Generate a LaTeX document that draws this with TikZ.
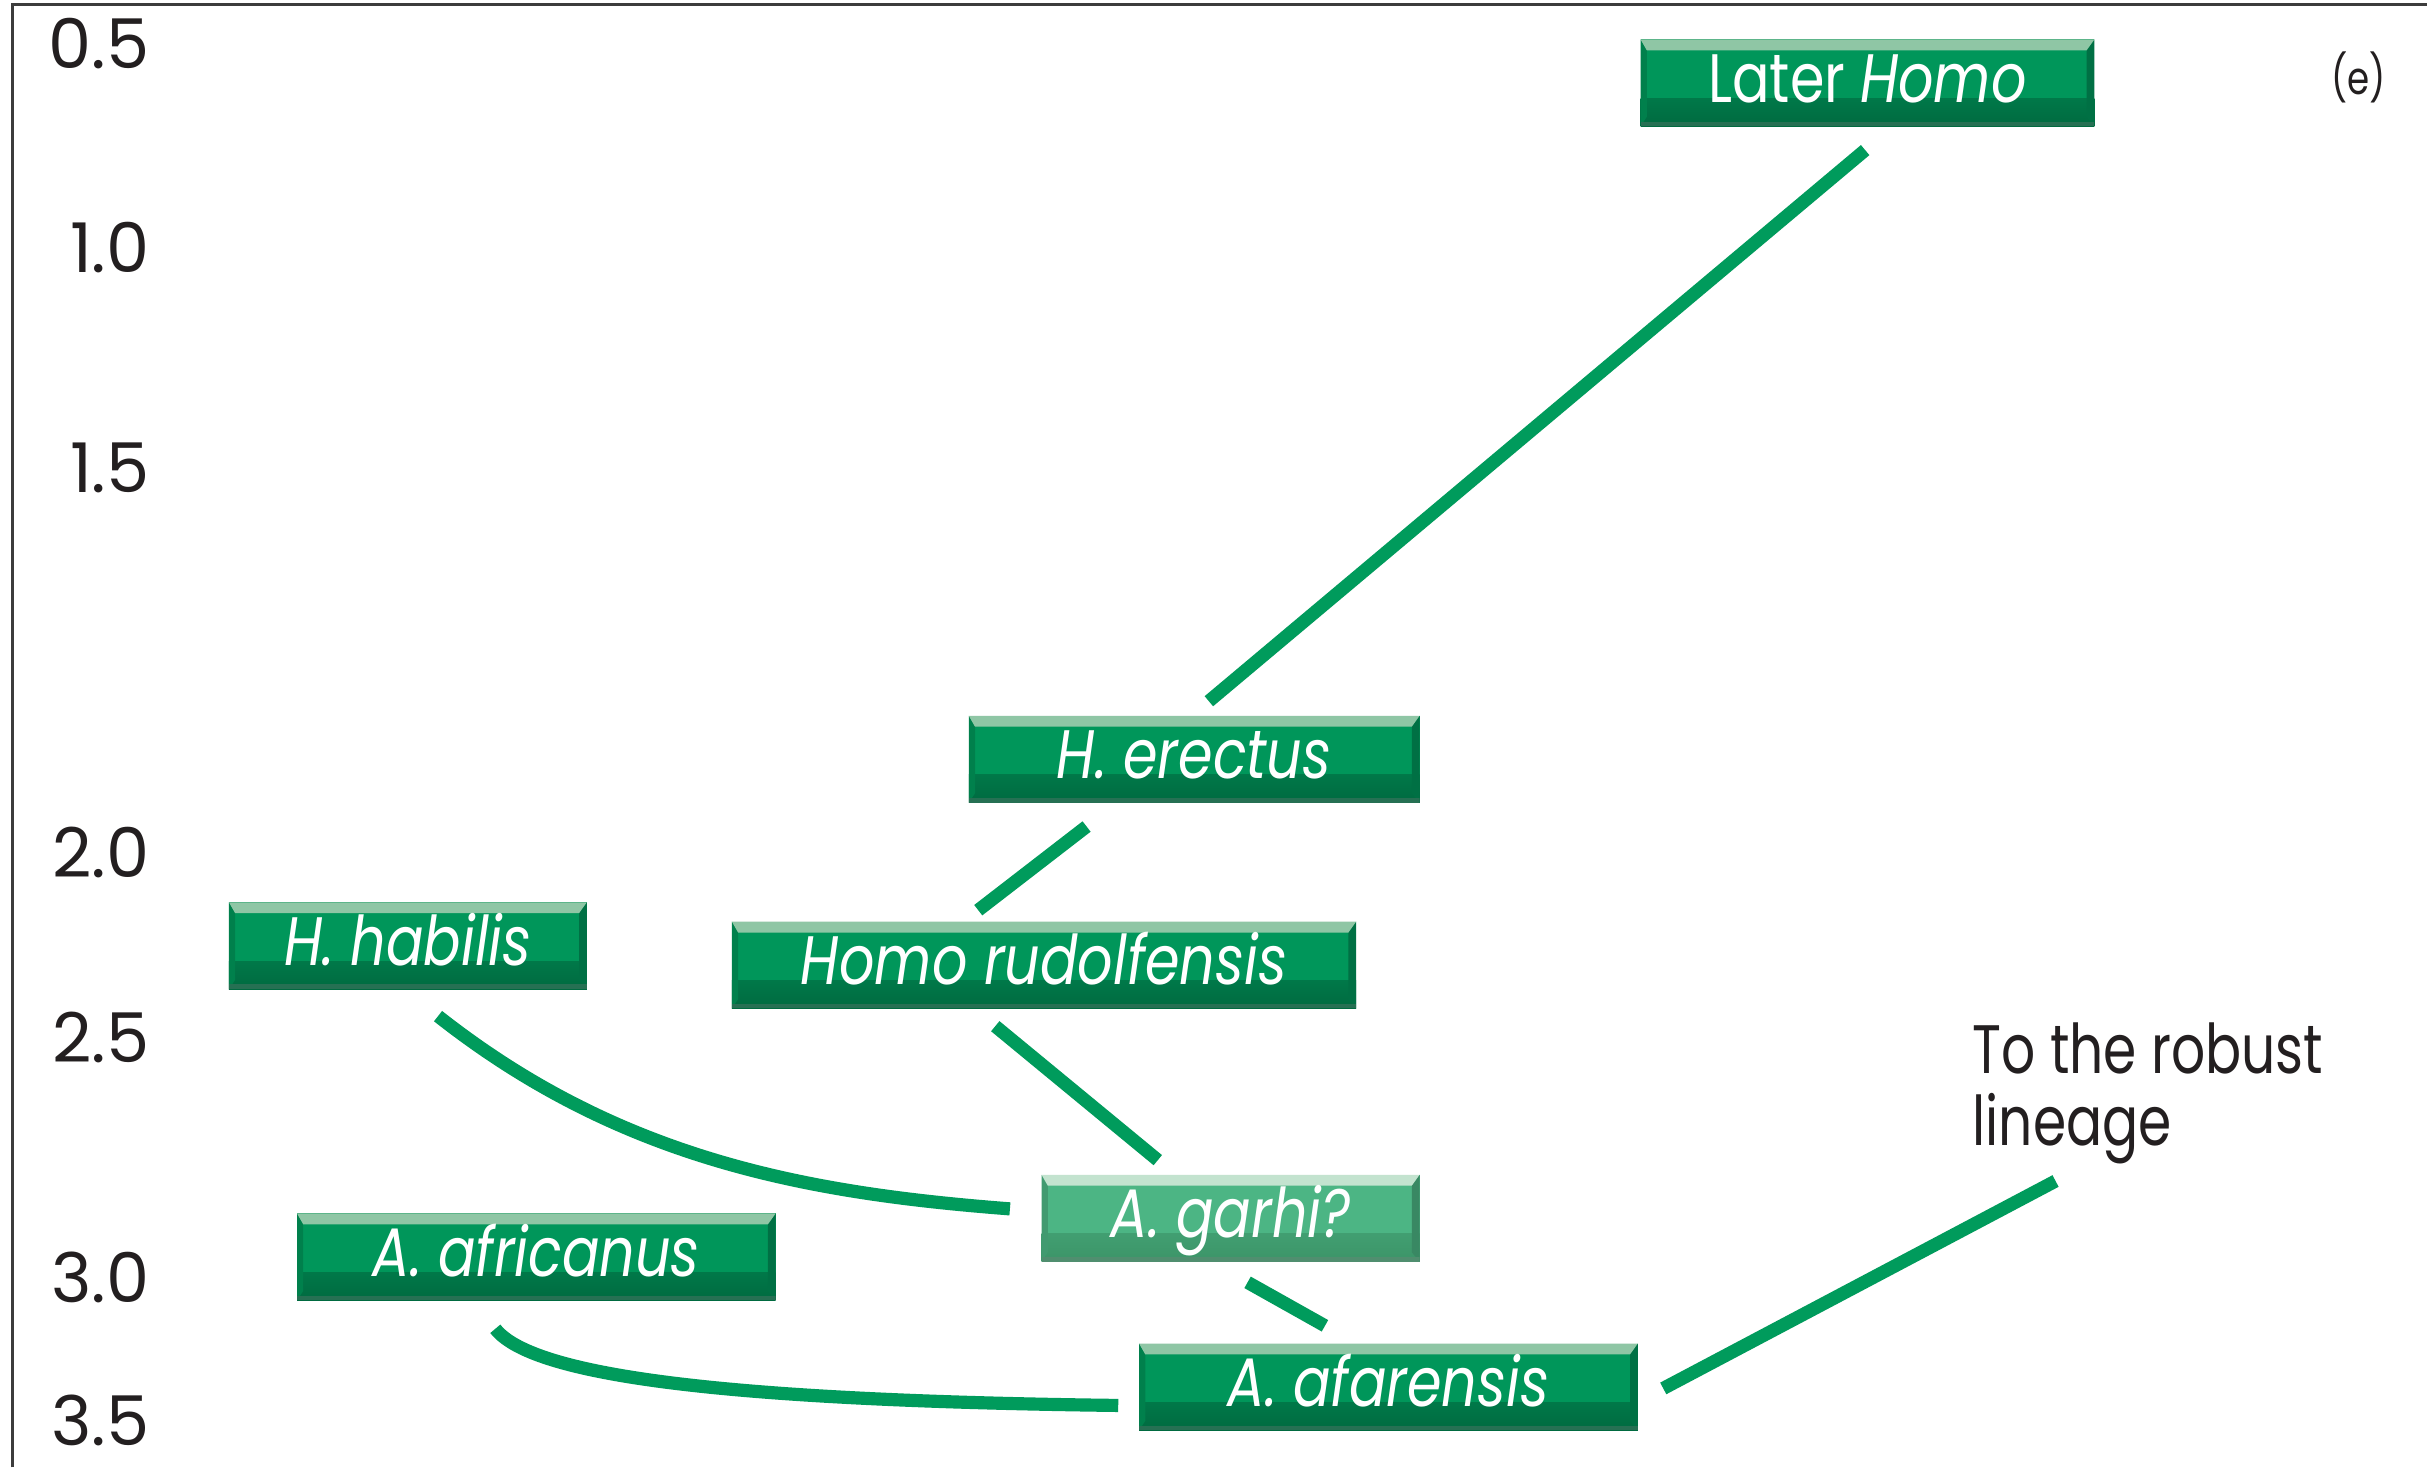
\documentclass[tikz,border=0pt]{standalone}
\usepackage{fontspec}
\usetikzlibrary{calc}
\setmainfont{Poppins}
\newfontfamily\boxfont[FakeStretch=0.81]{Poppins}
\newfontfamily\labfont[FakeStretch=0.78]{Poppins}
\newcommand\pxw{0.4405pt}
\definecolor{linkgreen}{HTML}{009B5C}
\definecolor{bxmain}{HTML}{00965A}
\definecolor{bxtop}{HTML}{8FC6A5}
\definecolor{bxbot}{HTML}{006A40}
\definecolor{gamain}{HTML}{4CB584}
\definecolor{gatop}{HTML}{C3E3CF}
\definecolor{gabot}{HTML}{3C9468}
\definecolor{inkgray}{HTML}{231F20}
\definecolor{framegray}{HTML}{3C3C3C}
\begin{document}
\begin{tikzpicture}[x=0.01548cm, y=-0.01548cm,
  boxbase/.style n args={3}{fill=#1, inner sep=0pt, minimum height=56*\pxw,
    text height=15pt, text depth=4pt, text=white,
    font=\boxfont\fontsize{19.5}{22}\selectfont,
    path picture={
      \shade[top color=#1, bottom color=#3]
        ($(path picture bounding box.south west)+(0,-18)$) rectangle (path picture bounding box.south east);
      \fill[#1!85!black] (path picture bounding box.north west) -- ($(path picture bounding box.north west)+(4,7)$)
        -- ($(path picture bounding box.south west)+(4,-6)$) -- (path picture bounding box.south west) -- cycle;
      \fill[#1!75!black] (path picture bounding box.north east) -- ($(path picture bounding box.north east)+(-5,7)$)
        -- ($(path picture bounding box.south east)+(-5,-6)$) -- (path picture bounding box.south east) -- cycle;
      \fill[#2] (path picture bounding box.north west) -- (path picture bounding box.north east)
        -- ($(path picture bounding box.north east)+(-5,7)$) -- ($(path picture bounding box.north west)+(4,7)$) -- cycle;
      \fill[#3!70!gray] ($(path picture bounding box.south west)+(0,-3)$) rectangle (path picture bounding box.south east);
    }},
  darkbox/.style={boxbase={bxmain}{bxtop}{bxbot}},
  lightbox/.style={boxbase={gamain}{gatop}{gabot}},
  link/.style={draw=linkgreen, line width=8.5*\pxw, line cap=butt},
  axislab/.style={anchor=east, text=inkgray, inner sep=0pt, font=\fontsize{19.5}{22}\selectfont},
  note/.style={text=inkgray, inner sep=0pt, font=\labfont\fontsize{19.5}{20.7}\selectfont}
]
\useasboundingbox (0,0) rectangle (1568,948);
\fill[white] (0,0) rectangle (1568,948);
\draw[framegray, line width=2.3*\pxw] (8,948) -- (8,3) -- (1568,3);

% axis
\node[axislab] (t05) at (97,28) {0.5};
\node[axislab] (t10) at (97,160) {1.0};
\node[axislab] (t15) at (97,302) {1.5};
\node[axislab] (t20) at (97,551) {2.0};
\node[axislab] (t25) at (97,670) {2.5};
\node[axislab] (t30) at (97,825) {3.0};
\node[axislab] (t35) at (97,918) {3.5};
\node[text=inkgray, inner sep=0pt, font=\labfont\fontsize{13}{15}\selectfont] (elab) at (1524,50) {(e)};

% boxes
\node[darkbox, minimum width=293*\pxw] (later) at (1206.5,53.5) {Later \textit{Homo}};
\node[darkbox, minimum width=291*\pxw] (erectus) at (771.5,490.5) {\textit{H. erectus}};
\node[darkbox, minimum width=231*\pxw] (habilis) at (263.5,611) {\textit{H. habilis}};
\node[darkbox, minimum width=403*\pxw] (rudolf) at (674.5,623.5) {\textit{Homo rudolfensis}};
\node[lightbox, minimum width=244*\pxw] (garhi) at (795,787) {\textit{A. garhi?}};
\node[darkbox, minimum width=309*\pxw] (africanus) at (346.5,812) {\textit{A. africanus}};
\node[darkbox, minimum width=322*\pxw] (afarensis) at (897,896) {\textit{A. afarensis}};

\node[note, anchor=north west, align=left] (robust) at (1274,660) {To the robust\\lineage};
\coordinate (robustend) at (1328,763);

% links
\draw[link] ($(later.south)+(-1.5,15)$) -- ($(erectus.north)+(9.5,-9)$);
\draw[link] ($(erectus.south)+(-69.5,15)$) -- ($(rudolf.north)+(-42.5,-7)$);
\draw[link] ($(rudolf.south)+(-31.5,11)$) -- ($(garhi.north)+(-47,-9)$);
\draw[link] ($(garhi.south)+(11,13)$) -- ($(afarensis.north)+(-41,-11)$);
\draw[link] ($(habilis.south)+(19.5,17)$) .. controls +(118,93) and +(-130,-10) .. ($(garhi.west)+(-20,-6)$);
\draw[link] ($(africanus.south)+(-26.5,18)$) .. controls +(25,32) and +(-243,-3) .. ($(afarensis.west)+(-13,12)$);
\draw[link] ($(afarensis.east)+(16,1)$) -- (robustend);
\end{tikzpicture}
\end{document}
